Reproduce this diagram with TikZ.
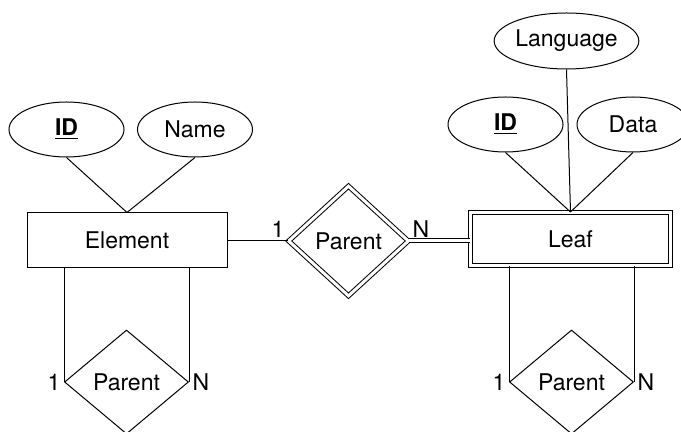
\documentclass[tikz,border=0pt]{standalone}
\usepackage{fontspec}
\setmainfont{TeX Gyre Heros}
\usetikzlibrary{positioning, shapes.geometric}

\tikzset{
	entity/.style={draw, rectangle, minimum width=100pt, minimum height=27.5pt, inner sep=0pt},
	weakentity/.style={entity, double, double distance=1.5pt, minimum width=100pt, minimum height=26.5pt},
	attrib/.style={draw, ellipse, minimum width=57.5pt, minimum height=27.5pt, inner sep=0pt},
	relation/.style={draw, diamond, minimum width=62pt, minimum height=52pt, inner sep=0pt},
	weakrelation/.style={relation, double, double distance=1.5pt, minimum width=60pt, minimum height=55pt},
	card/.style={inner sep=1.5pt}
}
\newcommand{\keyattr}[1]{\underline{\textbf{#1}}}

\begin{document}
\begin{tikzpicture}[x=0.5pt, y=-0.5pt, font=\fontsize{11.5}{13}\selectfont, line width=0.5pt]
	\useasboundingbox (0,0) rectangle (681,432);

	% left entity and its attributes
	\node[entity] (element) at (127,240.5) {Element};
	\node[attrib] (elemID) at (66.5,129.5) {\keyattr{ID}};
	\node[attrib] (elemName) at (195,129.5) {Name};
	\draw (elemID.south) -- (element.north);
	\draw (elemName.south) -- (element.north);

	% right weak entity and its attributes
	\node[weakentity] (leaf) at (570.5,239) {Leaf};
	\node[attrib, minimum width=67.5pt, minimum height=28pt] (leafLang) at (566.5,41) {Language};
	\node[attrib] (leafID) at (505.5,124.5) {\keyattr{ID}};
	\node[attrib, minimum width=56pt] (leafData) at (633,124.5) {Data};
	\draw (leafID.south) -- (leaf.north);
	\draw (leafData.south) -- (leaf.north);
	\draw (leafLang.south) -- (leaf.north);

	% identifying relationship between them
	\node[weakrelation] (parent) at (348.5,241) {Parent};
	\draw (element.east |- parent.west) -- (parent.west)
		node[card, above left] {1};
	\draw[double, double distance=1.5pt] (parent.east) -- (leaf.west |- parent.east)
		node[card, pos=0, above right] {N};

	% recursive relationships below each entity
	\node[relation] (elemLoop) at (126.5,382) {Parent};
	\draw (elemLoop.west) -- (elemLoop.west |- element.south)
		node[card, pos=0, left] {1};
	\draw (elemLoop.east) -- (elemLoop.east |- element.south)
		node[card, pos=0, right] {N};

	\node[relation] (leafLoop) at (571.5,382) {Parent};
	\draw (leafLoop.west) -- (leafLoop.west |- leaf.south)
		node[card, pos=0, left] {1};
	\draw (leafLoop.east) -- (leafLoop.east |- leaf.south)
		node[card, pos=0, right] {N};
\end{tikzpicture}
\end{document}
